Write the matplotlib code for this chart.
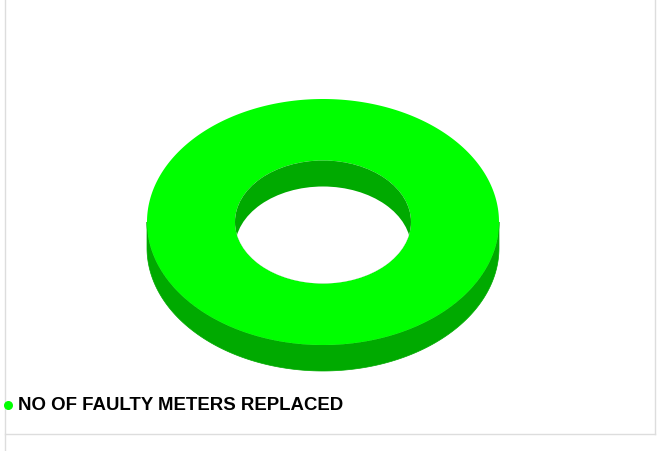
import numpy as np
import matplotlib.pyplot as plt
from matplotlib.patches import Polygon, Ellipse

labels = ["NO OF FAULTY METERS REPLACED"]
values = [100.0]
top_colors = ["#00ff00"]
side_colors = ["#00aa00"]

# geometry of the 3d donut, in pixels
cx, cy = 323, 222
rx, ry = 176, 123
inner = 0.5
depth = 26

fig = plt.figure(figsize=(6.6, 4.51), dpi=100)
ax = fig.add_axes([0, 0, 1, 1])
ax.set_xlim(0, 660)
ax.set_ylim(451, 0)
ax.axis("off")

def ell(t, k=1.0, dy=0.0):
    return cx + k * rx * np.cos(t), cy + k * ry * np.sin(t) + dy

fracs = np.array(values) / sum(values)
starts = np.concatenate([[0], np.cumsum(fracs)[:-1]]) * 2 * np.pi
ends = np.cumsum(fracs) * 2 * np.pi

# outer walls (only the front half is visible)
for a0, a1, sc in zip(starts, ends, side_colors):
    lo, hi = max(a0, 0), min(a1, np.pi)
    if hi > lo:
        t = np.linspace(lo, hi, 200)
        x, y = ell(t)
        xb, yb = ell(t[::-1], dy=depth)
        ax.add_patch(Polygon(np.column_stack([np.r_[x, xb], np.r_[y, yb]]),
                             closed=True, fc=sc, ec=sc, lw=0.5))

# top faces
for a0, a1, tc in zip(starts, ends, top_colors):
    t = np.linspace(a0, a1, 400)
    xo, yo = ell(t)
    xi, yi = ell(t[::-1], k=inner)
    ax.add_patch(Polygon(np.column_stack([np.r_[xo, xi], np.r_[yo, yi]]),
                         closed=True, fc=tc, ec="none"))

# inner wall seen through the hole
hole = Ellipse((cx, cy), 2 * rx * inner, 2 * ry * inner, fc=side_colors[0], ec="none")
ax.add_patch(hole)
through = Ellipse((cx, cy + depth), 2 * rx * inner, 2 * ry * inner, fc="white", ec="none")
ax.add_patch(through)
through.set_clip_path(hole)

# frame lines
ax.plot([5, 5], [0, 451], color="#dddddd", lw=1)
ax.plot([5, 655], [434, 434], color="#dddddd", lw=1)
ax.plot([655, 655], [0, 434], color="#dddddd", lw=1)

# legend
for i, (lab, tc) in enumerate(zip(labels, top_colors)):
    ax.scatter([8], [405 + i * 22], s=30, color=tc, zorder=5)
    ax.text(18, 405 + i * 22, lab, fontsize=13.4, fontweight="bold",
            family="Liberation Sans", va="center", ha="left", color="black")

fig.savefig("out.png", dpi=100)
